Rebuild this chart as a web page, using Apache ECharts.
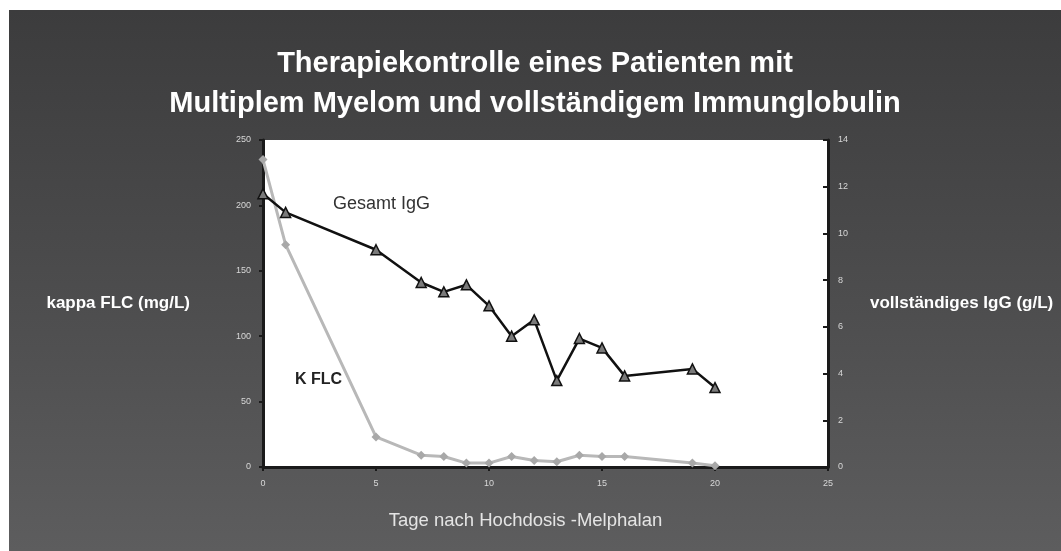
<!DOCTYPE html>
<html>
<head>
<meta charset="utf-8">
<script src="https://cdn.jsdelivr.net/npm/echarts@6/dist/echarts.min.js"></script>
<style>
  html, body { margin: 0; padding: 0; background: #fff; }
  #wrap {
    position: absolute; left: 9px; top: 10px; width: 1052px; height: 541px;
    background: linear-gradient(to bottom, #3c3c3d 0%, #4a4a4b 45%, #5d5d5e 100%);
  }
  #chart { width: 1052px; height: 541px; }
</style>
</head>
<body>
<div id="wrap"><div id="chart"></div></div>
<script>
// Tage nach Hochdosis-Melphalan
const days = [0, 1, 5, 7, 8, 9, 10, 11, 12, 13, 14, 15, 16, 19, 20];
// kappa FLC (mg/L)
const kappaFlc = [235, 170, 23, 9, 8, 3, 3, 8, 5, 4, 9, 8, 8, 3, 1];
// vollständiges IgG (g/L)
const igg = [11.7, 10.9, 9.3, 7.9, 7.5, 7.8, 6.9, 5.6, 6.3, 3.7, 5.5, 5.1, 3.9, 4.2, 3.4];

const titleLines = ['Therapiekontrolle eines Patienten mit', 'Multiplem Myelom und vollständigem Immunglobulin'];

const font = '"Liberation Sans", Arial, sans-serif';

const chart = echarts.init(document.getElementById('chart'));

const option = {
  backgroundColor: 'transparent',
  animation: false,
  title: {
    text: titleLines.join('\n'),
    left: 'center',
    top: 29,
    padding: [5, 0, 5, 12],
    textStyle: {
      color: '#ffffff',
      fontFamily: font,
      fontWeight: 'bold',
      fontSize: 29,
      lineHeight: 40
    }
  },
  grid: {
    left: 254,
    top: 130,
    width: 565,
    height: 327,
    show: true,
    backgroundColor: '#ffffff',
    borderWidth: 0
  },
  xAxis: {
    type: 'value',
    min: 0,
    max: 25,
    interval: 5,
    name: 'Tage nach Hochdosis -Melphalan',
    nameLocation: 'middle',
    nameGap: 44,
    nameTextStyle: { color: '#e4e4e4', fontSize: 18.5, fontFamily: font, padding: [0, 40, 0, 0] },
    axisLine: { lineStyle: { color: '#1a1a1a', width: 3 } },
    axisTick: { length: 4, lineStyle: { color: '#1a1a1a', width: 2 } },
    axisLabel: { color: '#d8d8d8', fontSize: 9, margin: 12, fontFamily: font },
    splitLine: { show: false }
  },
  yAxis: [{
    type: 'value',
    min: 0,
    max: 250,
    interval: 50,
    name: 'kappa FLC (mg/L)',
    nameLocation: 'middle',
    nameRotate: 0,
    nameGap: 73,
    nameTextStyle: { color: '#ffffff', fontSize: 17, fontWeight: 'bold', fontFamily: font },
    axisLine: { show: true, lineStyle: { color: '#1a1a1a', width: 3 } },
    axisTick: { show: true, length: 4, lineStyle: { color: '#1a1a1a', width: 2 } },
    axisLabel: { color: '#d8d8d8', fontSize: 9, margin: 12, fontFamily: font },
    splitLine: { show: false }
  }, {
    type: 'value',
    position: 'right',
    min: 0,
    max: 14,
    interval: 2,
    name: 'vollständiges IgG (g/L)',
    nameLocation: 'middle',
    nameRotate: 0,
    nameGap: 42,
    nameTextStyle: { color: '#ffffff', fontSize: 17, fontWeight: 'bold', fontFamily: font },
    axisLine: { show: true, lineStyle: { color: '#1a1a1a', width: 3 } },
    axisTick: { show: true, inside: true, length: 5, lineStyle: { color: '#1a1a1a', width: 2 } },
    axisLabel: { color: '#d8d8d8', fontSize: 9, margin: 10, fontFamily: font },
    splitLine: { show: false }
  }],
  graphic: [{
    type: 'text',
    left: 324,
    top: 185,
    style: { text: 'Gesamt IgG', fill: '#333', fontSize: 18, fontFamily: font }
  }, {
    type: 'text',
    left: 286,
    top: 362,
    style: { text: 'K FLC', fill: '#222', fontSize: 16, fontWeight: 'bold', fontFamily: font }
  }],
  series: [{
    name: 'kappa FLC',
    type: 'line',
    yAxisIndex: 0,
    data: days.map((d, i) => [d, kappaFlc[i]]),
    symbol: 'diamond',
    symbolSize: 9,
    lineStyle: { color: '#b8b8b8', width: 3 },
    itemStyle: { color: '#a8a8a8' },
    z: 2
  }, {
    name: 'Gesamt IgG',
    type: 'line',
    yAxisIndex: 1,
    data: days.map((d, i) => [d, igg[i]]),
    symbol: 'triangle',
    symbolSize: 10,
    lineStyle: { color: '#111', width: 2.5 },
    itemStyle: { color: '#7a7a7a', borderColor: '#111', borderWidth: 1.5 },
    z: 3
  }]
};

chart.setOption(option);
</script>
</body>
</html>
